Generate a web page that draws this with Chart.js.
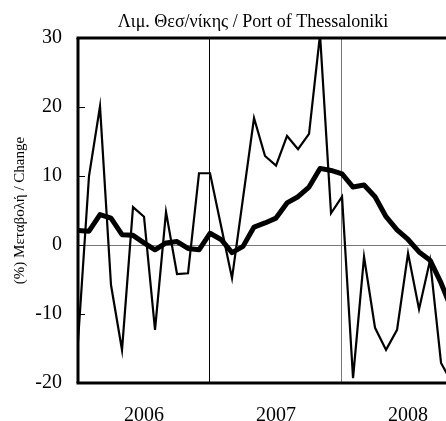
<!DOCTYPE html>
<html>
<head>
<meta charset="utf-8">
<script src="https://cdn.jsdelivr.net/npm/chart.js@4/dist/chart.umd.min.js"></script>
<style>
  html, body { margin: 0; padding: 0; background: #fff; overflow: hidden; }
  #wrap { width: 446px; height: 421px; position: relative; }
</style>
</head>
<body>
<div id="wrap"><canvas id="portChart" width="446" height="421"></canvas></div>
<script>
// Month index 0 = Jan 2006
const years = ['2006', '2007', '2008'];
const yearCentres = [6, 18, 30];
const yearStarts = [12, 24];
const yTicks = [-20, -10, 0, 10, 20, 30];

// Monthly % change (thin line)
const monthlyChange = [
  -14, 10, 20.1, -5.8, -15.2, 5.5, 4.1, -12.3, 4.8, -4.2, -4.1, 10.4,
  10.4, 2.8, -4.8, 6.8, 18.4, 12.9, 11.5, 15.8, 13.9, 16.1, 30.5, 4.6,
  7.0, -19.3, -1.7, -12.0, -15.2, -12.3, -1.2, -9.3, -2.2, -17.1, -20
];
// Moving average (thick line)
const movingAvg = [
  2.1, 2.0, 4.4, 3.9, 1.5, 1.4, 0.3, -0.7, 0.3, 0.5, -0.5, -0.7,
  1.7, 0.8, -1.1, -0.2, 2.6, 3.2, 3.9, 6.1, 7.0, 8.4, 11.1, 10.8,
  10.3, 8.4, 8.7, 7.0, 4.1, 2.2, 0.8, -1.0, -2.2, -5.5, -9.5
];

const titleText = 'Λιμ. Θεσ/νίκης / Port of Thessaloniki';
const serif = "'Liberation Serif', 'Times New Roman', serif";

function toPoints(arr) {
  return arr.map((v, i) => ({ x: i, y: v }));
}

function hLine(ctx, x1, x2, y) {
  ctx.beginPath(); ctx.moveTo(x1, y); ctx.lineTo(x2, y); ctx.stroke();
}
function vLine(ctx, x, y1, y2) {
  ctx.beginPath(); ctx.moveTo(x, y1); ctx.lineTo(x, y2); ctx.stroke();
}

// zero line, year separators, frame, inner ticks and title
const framePlugin = {
  id: 'framePlugin',
  beforeDatasetsDraw(chart) {
    const { ctx, chartArea: a, scales: { x, y } } = chart;
    ctx.save();
    ctx.lineWidth = 1;
    ctx.strokeStyle = '#777';
    hLine(ctx, a.left, a.right, Math.round(y.getPixelForValue(0)) + 0.5);
    yearStarts.forEach((m, k) => {
      ctx.strokeStyle = k === 0 ? '#000' : '#777';
      vLine(ctx, Math.round(x.getPixelForValue(m)) - 0.5, a.top, a.bottom);
    });
    ctx.restore();
  },
  afterDatasetsDraw(chart) {
    const { ctx, chartArea: a, scales: { y } } = chart;
    ctx.save();
    ctx.strokeStyle = '#000';
    ctx.lineWidth = 1;
    yTicks.forEach(t => {
      hLine(ctx, a.left, a.left + 7, Math.round(y.getPixelForValue(t)) + 0.5);
    });
    ctx.lineWidth = 3;
    hLine(ctx, a.left - 1.5, a.right, a.top);
    hLine(ctx, a.left - 1.5, a.right, a.bottom);
    vLine(ctx, a.left, a.top, a.bottom);

    ctx.fillStyle = '#000';
    ctx.font = '18px ' + serif;
    ctx.textAlign = 'center';
    ctx.textBaseline = 'alphabetic';
    ctx.fillText(titleText, 253, 27);
    ctx.restore();
  }
};

new Chart(document.getElementById('portChart'), {
  type: 'line',
  data: {
    datasets: [
      {
        label: 'Μεταβολή',
        data: toPoints(monthlyChange),
        borderColor: '#000',
        borderWidth: 2.2,
        pointRadius: 0,
        tension: 0
      },
      {
        label: 'Κινητός μέσος',
        data: toPoints(movingAvg),
        borderColor: '#000',
        borderWidth: 5,
        pointRadius: 0,
        tension: 0,
        borderJoinStyle: 'round'
      }
    ]
  },
  options: {
    responsive: false,
    animation: false,
    events: [],
    layout: { autoPadding: false, padding: { top: 38, right: 0, bottom: 0, left: 0 } },
    plugins: { legend: { display: false }, tooltip: { enabled: false } },
    scales: {
      x: {
        type: 'linear',
        min: 0,
        max: 33.45,
        grid: { display: false },
        border: { display: false },
        afterBuildTicks: s => { s.ticks = yearCentres.map(v => ({ value: v })); },
        afterFit: s => { s.height = 38; },
        ticks: {
          autoSkip: false,
          maxRotation: 0,
          padding: 13,
          color: '#000',
          font: { family: serif, size: 20 },
          callback: v => years[yearCentres.indexOf(v)]
        }
      },
      y: {
        min: -20,
        max: 30,
        grid: { display: false, drawTicks: false },
        border: { display: false },
        afterBuildTicks: s => { s.ticks = yTicks.map(v => ({ value: v })); },
        afterFit: s => { s.width = 78; },
        ticks: {
          padding: 16,
          color: '#000',
          font: { family: serif, size: 20 },
          callback: v => String(v)
        },
        title: {
          display: true,
          text: '(%) Μεταβολή / Change',
          color: '#000',
          font: { family: serif, size: 15 },
          padding: { top: 11, bottom: 0 }
        }
      }
    }
  },
  plugins: [framePlugin]
});
</script>
</body>
</html>
